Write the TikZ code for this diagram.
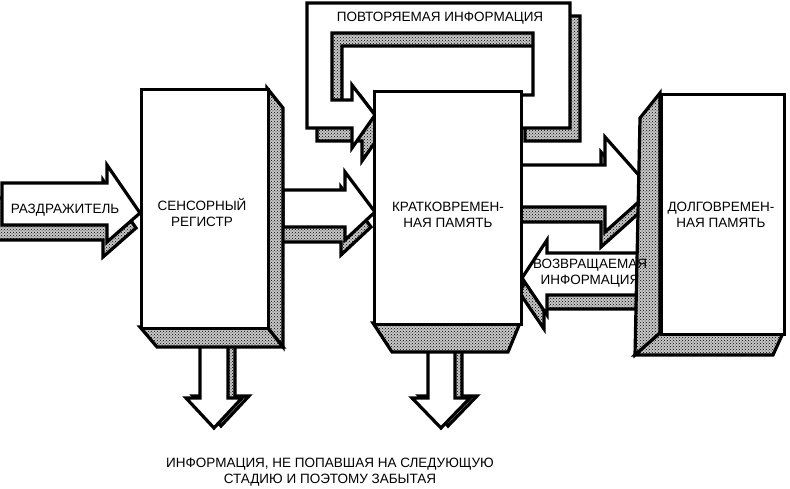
\documentclass[tikz,border=0pt]{standalone}
\usepackage{fontspec}
\setmainfont{Liberation Sans}
\usetikzlibrary{patterns}
\begin{document}
\begin{tikzpicture}[x=1pt,y=-1pt,line width=3.2pt,line join=miter,
  front/.style={draw=black,fill=white},
  shade/.style={draw=black,preaction={fill=black!22},pattern=crosshatch dots,pattern color=black},
  lbl/.style={font=\fontsize{13.5}{16}\selectfont,align=center,inner sep=0pt}]
\useasboundingbox (0,0) rectangle (790,489);
% loop arrow
\def\loopA{(307,3)--(570,3)--(570,128)--(515,128)--(515,95)--(533,95)--(533,33)--(332,33)--(332,100)--(352,100)--(352,85)--(375,115)--(352,148)--(352,128)--(307,128)--cycle}
\path[shade,shift={(10,13)}] \loopA;
\path[front] \loopA;
% stimulus arrow
\def\arA{(2,183)--(107,183)--(107,165)--(140,213)--(107,242)--(107,225)--(2,225)--cycle}
\path[shade,shift={(-4,15)}] \arA; \path[front] \arA;
% SR -> STM
\def\arB{(283,190)--(345,190)--(345,172)--(375,212)--(345,240)--(345,227)--(283,227)--cycle}
\path[shade,shift={(-4,15)}] \arB; \path[front] \arB;
% STM -> LTM
\def\arC{(515,165)--(605,165)--(605,137)--(652,190)--(605,232)--(605,207)--(515,207)--cycle}
\path[shade,shift={(-4,15)}] \arC; \path[front] \arC;
% LTM -> STM
\def\arD{(655,253)--(547,253)--(547,240)--(522,278)--(547,315)--(547,295)--(655,295)--cycle}
\path[shade,shift={(-3,14)}] \arD; \path[front] \arD;
% down arrows
\def\arE{(200,340)--(228,340)--(228,398)--(242,398)--(214,428)--(186,398)--(200,398)--cycle}
\path[shade,shift={(7,-2)}] \arE; \path[front] \arE;
\def\arF{(428,345)--(455,345)--(455,398)--(470,398)--(441,428)--(412,398)--(428,398)--cycle}
\path[shade,shift={(7,-2)}] \arF; \path[front] \arF;
% sensory register
\path[shade] (267,88)--(283,108)--(283,347)--(267,327)--cycle;
\path[shade] (140,327)--(267,327)--(283,347)--(157,347)--cycle;
\node[front,minimum width=127pt,minimum height=239pt,anchor=north west,line width=3.2pt] (sr) at (140,88) {};
% STM
\path[shade] (373,323)--(520,323)--(508,352)--(392,352)--cycle;
\node[front,minimum width=147pt,minimum height=233pt,anchor=north west,line width=3.2pt] (stm) at (373,90) {};
% LTM
\path[shade] (660,93)--(640,118)--(635,355)--(660,333)--cycle;
\path[shade] (660,333)--(783,333)--(773,355)--(635,355)--cycle;
\node[front,minimum width=123pt,minimum height=240pt,anchor=north west,line width=3.2pt] (ltm) at (660,93) {};
% texts
\node[lbl] (t1) at (65,210) {РАЗДРАЖИТЕЛЬ};
\node[lbl] (t2) at (202,212) {СЕНСОРНЫЙ\\РЕГИСТР};
\node[lbl] (t3) at (448,215) {КРАТКОВРЕМЕН-\\НАЯ ПАМЯТЬ};
\node[lbl] (t4) at (721,215) {ДОЛГОВРЕМЕН-\\НАЯ ПАМЯТЬ};
\node[lbl] (t5) at (440,18) {ПОВТОРЯЕМАЯ ИНФОРМАЦИЯ};
\node[lbl] (t6) at (590,273) {ВОЗВРАЩАЕМАЯ\\ИНФОРМАЦИЯ};
\node[lbl] (t7) at (330,472) {ИНФОРМАЦИЯ, НЕ ПОПАВШАЯ НА СЛЕДУЮЩУЮ\\СТАДИЮ И ПОЭТОМУ ЗАБЫТАЯ};
\end{tikzpicture}
\end{document}
